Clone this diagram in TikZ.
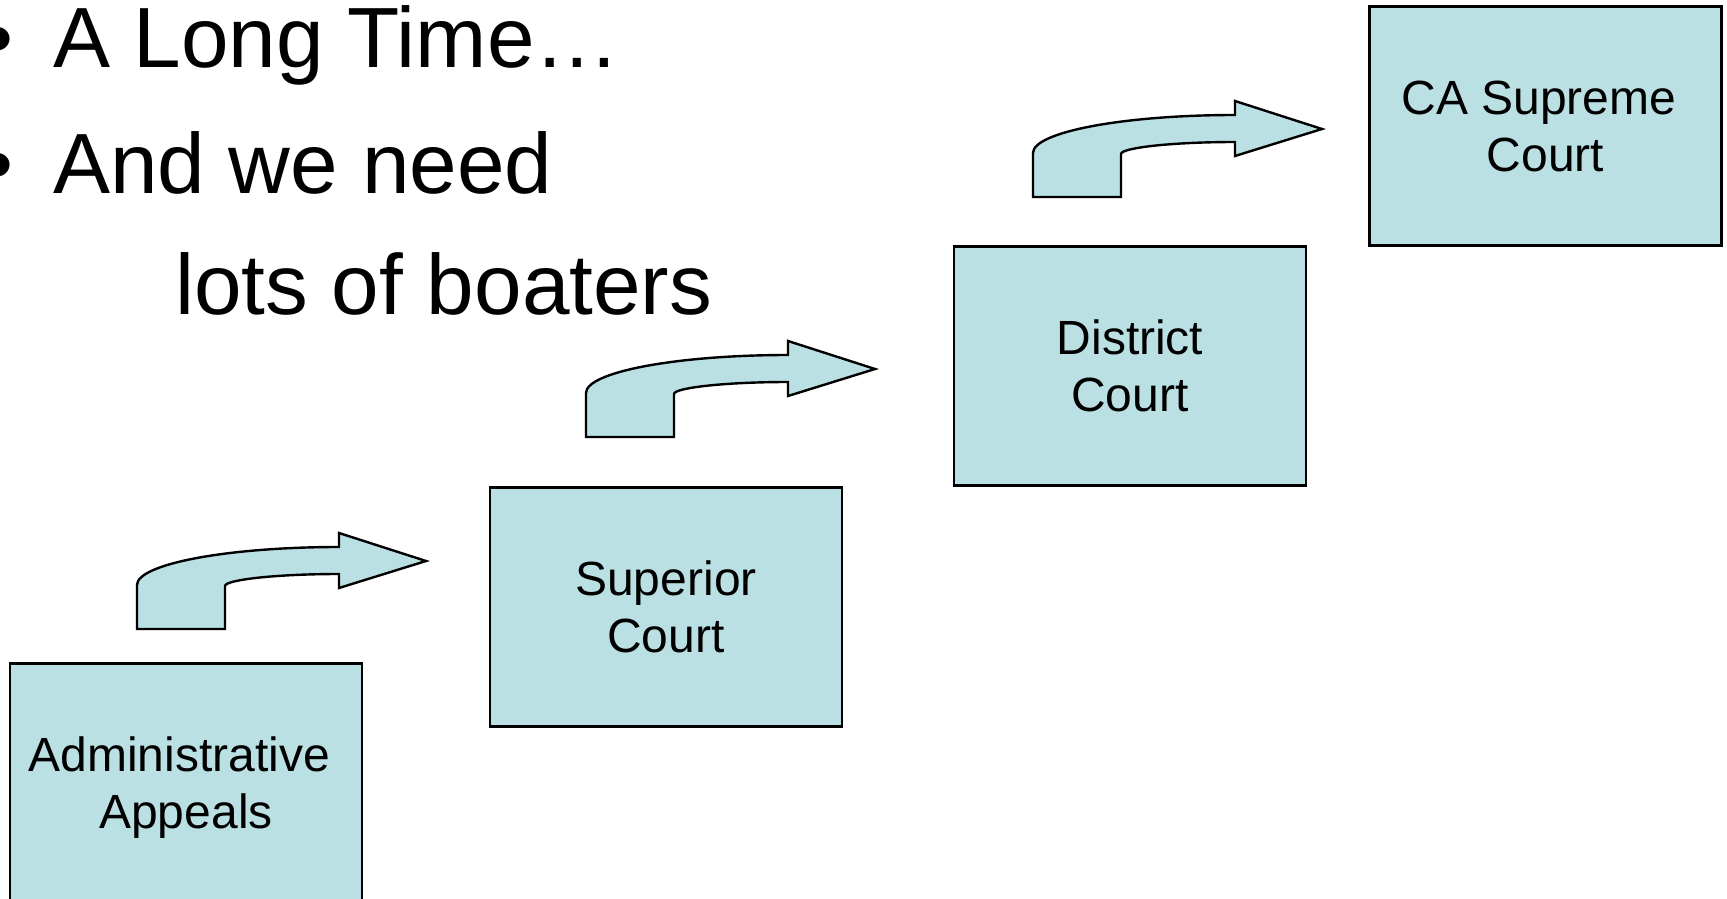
\documentclass[tikz,border=0pt]{standalone}
\usepackage{fontspec}
\setmainfont{Liberation Sans}
\definecolor{courtfill}{RGB}{187,224,227}
\tikzset{
  court/.style={draw=black, line width=2.4pt, fill=courtfill,
    minimum width=352pt, minimum height=239pt, inner sep=0pt,
    align=center, font=\fontsize{48}{57}\selectfont},
  headline/.style={anchor=base west, inner sep=0pt,
    font=\fontsize{85.5}{123}\selectfont},
  bentarrow/.pic={
    \draw[line width=2.4pt, fill=courtfill, line join=miter]
      (0,0) -- (0,44)
      .. controls (0,65) and (90.5,82) .. (202,82)
      -- (202,96) -- (289,68) -- (202,41) -- (202,55)
      .. controls (139,55) and (88,49.2) .. (88,43)
      -- (88,0) -- cycle;
  }
}
\begin{document}
\begin{tikzpicture}[x=1pt,y=1pt]
\useasboundingbox (0,0) rectangle (1727,-899);

% bulleted heading
\node[headline] (b1) at (-17,-68) {•};
\node[headline] (b2) at (-17,-193) {•};
\node[headline] (t1) at (53,-68) {A Long Time…};
\node[headline] (t2) at (53,-193) {And we need};
\node[headline] (t3) at (175,-314) {lots of boaters};

% the ladder of courts
\node[court] (adm) at (186,-783) {Administrative\hspace*{0.278em}\\\raisebox{0pt}[\height][0pt]{Appeals}};
\node[court] (sup) at (666,-607) {Superior\\Court};
\node[court] (dis) at (1130,-366) {District\\Court};
\node[court] (sc)  at (1545.5,-126) {CA Supreme\hspace*{0.278em}\\Court};

% bent arrows stepping up from one court to the next
\coordinate (a1) at (137,-629);
\coordinate (a2) at (586,-437);
\coordinate (a3) at (1033,-197);
\pic at (a1) {bentarrow};
\pic at (a2) {bentarrow};
\pic at (a3) {bentarrow};
\end{tikzpicture}
\end{document}
